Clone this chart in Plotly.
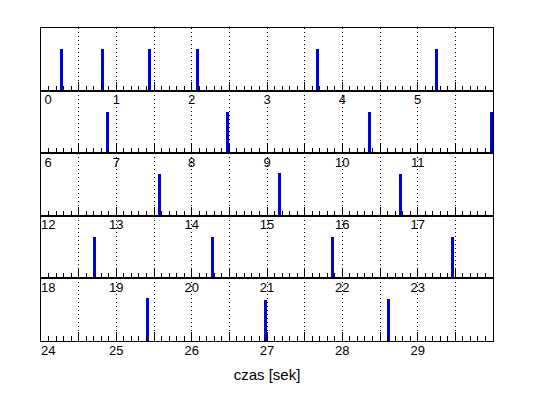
import plotly.graph_objects as go
from plotly.subplots import make_subplots

event_times = [0.275, 0.814, 1.438, 2.075, 3.668, 5.244,
               6.880, 8.473, 10.367, 11.985,
               13.570, 15.160, 16.770,
               18.710, 20.280, 21.870, 23.460,
               25.420, 26.980, 28.610]
event_heights = [1.0, 1.0, 1.0, 1.0, 1.0, 1.0,
                 1.0, 1.0, 1.0, 1.0,
                 1.0, 1.02, 1.0,
                 1.0, 1.0, 1.0, 1.0,
                 1.02, 0.98, 1.0]
row_starts = [0, 6, 12, 18, 24]
row_length = 6
x_title = "czas [sek]"

FONT = "Liberation Sans, Arial, sans-serif"
SPIKE_COLOR = "rgb(0,0,215)"

n_rows = len(row_starts)
fig = make_subplots(rows=n_rows, cols=1, vertical_spacing=0)

for r, t0 in enumerate(row_starts, start=1):
    xs = [t for t in event_times if t0 <= t < t0 + row_length]
    ys = [h for t, h in zip(event_times, event_heights) if t0 <= t < t0 + row_length]
    fig.add_trace(go.Bar(x=xs, y=ys, width=0.04, marker_color=SPIKE_COLOR,
                         marker_line_width=0, showlegend=False, hoverinfo="x"),
                  row=r, col=1)
    tickvals = [t0 + 0.5 * k for k in range(2 * row_length + 1)]
    ticktext = []
    for v in tickvals:
        if v == t0:
            ticktext.append("\u00a0\u00a0\u00a0\u00a0" + str(int(v)))
        elif abs(v - round(v)) < 1e-9 and v < t0 + row_length:
            ticktext.append(str(int(round(v))))
        else:
            ticktext.append("")
    fig.update_xaxes(range=[t0, t0 + row_length], tickmode="array",
                     tickvals=tickvals, ticktext=ticktext,
                     ticks="inside", ticklen=9, tickwidth=1, tickcolor="black",
                     ticklabelstandoff=-3,
                     showgrid=True, gridcolor="black", gridwidth=1, griddash="1px,3px",
                     showline=True, linecolor="black", linewidth=1, mirror=True,
                     zeroline=False,
                     tickfont=dict(family=FONT, size=13, color="black"),
                     minor=dict(tickmode="linear", tick0=0, dtick=0.1, ticks="inside",
                                ticklen=5, tickwidth=1, tickcolor="black", showgrid=False),
                     row=r, col=1)
    fig.update_yaxes(range=[0, 1.5], showticklabels=False, ticks="", showgrid=False,
                     showline=True, linecolor="black", linewidth=1, mirror=True,
                     zeroline=False, row=r, col=1)

fig.update_xaxes(title=dict(text=x_title, font=dict(family=FONT, size=15, color="black"),
                            standoff=12), row=n_rows, col=1)

# page body has an 8px default margin, so the figure is 8px smaller and margins shifted
fig.update_layout(width=530, height=390, margin=dict(l=33, r=45, t=20, b=57),
                  paper_bgcolor="white", plot_bgcolor="white", bargap=0,
                  font=dict(family=FONT, color="black"))

fig.write_html("out.html")
